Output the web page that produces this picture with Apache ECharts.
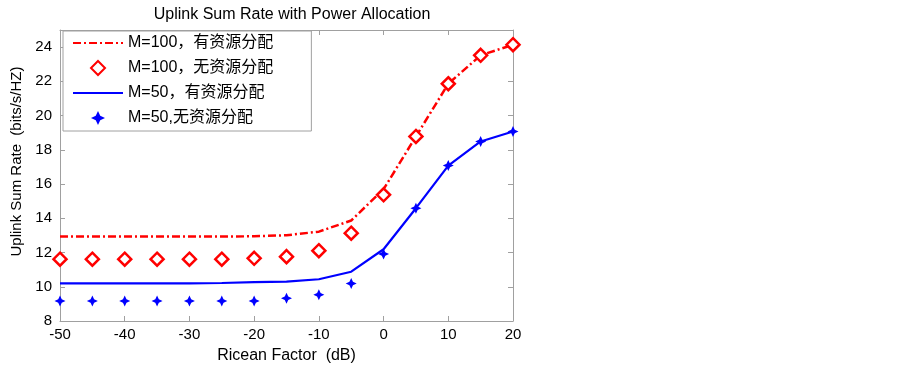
<!DOCTYPE html>
<html lang="zh">
<head>
    <meta charset="UTF-8">
    <title>Uplink Sum Rate</title>
    <script src="https://cdn.jsdelivr.net/npm/echarts@6/dist/echarts.min.js"></script>
</head>
<style>
    html, body { margin: 0; padding: 0; background: #fff; }
    #chart { width: 903px; height: 371px; }
</style>
<body>
<div id="chart"></div>
<script>
    // x: Ricean factor (dB)
    const riceanFactor = [-50, -45, -40, -35, -30, -25, -20, -15, -10, -5, 0, 5, 10, 15, 20];
    const m100Alloc = [12.93, 12.93, 12.93, 12.93, 12.93, 12.93, 12.95, 13.01, 13.22, 13.87, 15.7, 18.78, 21.86, 23.52, 24.14];
    const m100NoAlloc = [11.61, 11.61, 11.61, 11.61, 11.61, 11.61, 11.66, 11.76, 12.11, 13.13, 15.37, 18.78, 21.86, 23.52, 24.14];
    const m50Alloc = [10.2, 10.2, 10.2, 10.2, 10.2, 10.22, 10.27, 10.3, 10.44, 10.88, 12.19, 14.59, 17.08, 18.49, 19.07];
    const m50NoAlloc = [9.17, 9.17, 9.17, 9.17, 9.17, 9.17, 9.17, 9.33, 9.54, 10.19, 11.92, 14.59, 17.08, 18.49, 19.07];
    const seriesNames = ['M=100，有资源分配', 'M=100，无资源分配', 'M=50，有资源分配', 'M=50,无资源分配'];

    const pairs = ys => riceanFactor.map((x, i) => [x, ys[i]]);
    const starPath = 'path://M0,-10 L3.2,-3.2 L10,0 L3.2,3.2 L0,10 L-3.2,3.2 L-10,0 L-3.2,-3.2 Z';
    const diamondPath = 'path://M0,-10 L10,0 L0,10 L-10,0 Z';
    const txt = '#000';
    const boxColor = '#a0a0a0';
    const font = 'Arial, "Liberation Sans", "Noto Sans CJK SC", sans-serif';

    const hiddenAxis = {
        axisLine: {show: true, onZero: false, lineStyle: {color: boxColor}},
        axisTick: {show: true, inside: true, length: 5, lineStyle: {color: boxColor}},
        axisLabel: {show: false},
        splitLine: {show: false}
    };

    let option = {
        animation: false,
        backgroundColor: '#fff',
        textStyle: {fontFamily: font},
        title: {
            text: 'Uplink Sum Rate with Power Allocation',
            left: 287, top: 2, textAlign: 'center',
            textStyle: {fontSize: 16, fontWeight: 'normal', color: txt, fontFamily: font}
        },
        grid: {left: 60, right: 390, top: 30, bottom: 50},
        legend: {
            orient: 'vertical',
            left: 63, top: 31,
            padding: [4, 38, 5, 9],
            itemGap: 9,
            itemWidth: 50, itemHeight: 14,
            symbolKeepAspect: true,
            backgroundColor: '#fff',
            borderColor: boxColor, borderWidth: 1,
            textStyle: {fontSize: 16, color: txt, fontFamily: font},
            data: [
                {name: seriesNames[0], itemStyle: {opacity: 0}},
                {name: seriesNames[1], icon: diamondPath},
                {name: seriesNames[2], itemStyle: {opacity: 0}},
                {name: seriesNames[3], icon: starPath}
            ]
        },
        xAxis: [{
            type: 'value', min: -50, max: 20, interval: 10,
            name: 'Ricean Factor  (dB)', nameLocation: 'middle', nameGap: 27,
            nameTextStyle: {fontSize: 16, color: txt},
            axisLine: {show: true, onZero: false, lineStyle: {color: boxColor}},
            axisTick: {show: true, inside: true, length: 5, lineStyle: {color: boxColor}},
            axisLabel: {fontSize: 15, color: txt, margin: 6},
            splitLine: {show: false}
        }, Object.assign({type: 'value', position: 'top', min: -50, max: 20, interval: 10}, hiddenAxis)],
        yAxis: [{
            type: 'value', min: 8, max: 25, interval: 2,
            name: 'Uplink Sum Rate  (bits/s/HZ)', nameLocation: 'middle', nameGap: 33,
            nameTextStyle: {fontSize: 15, color: txt, padding: [0, 0, 0, 28]},
            axisLine: {show: true, onZero: false, lineStyle: {color: boxColor}},
            axisTick: {show: true, inside: true, length: 5, lineStyle: {color: boxColor}},
            axisLabel: {fontSize: 15, color: txt, margin: 8,
                formatter: v => (v <= 24 ? v : '')},
            splitLine: {show: false}
        }, Object.assign({type: 'value', position: 'right', min: 8, max: 25, interval: 2}, hiddenAxis)],
        series: [{
            name: seriesNames[0], type: 'line', data: pairs(m100Alloc),
            symbol: 'none', z: 3,
            lineStyle: {color: '#ff0000', width: 2.5, type: [8, 3, 2, 3]},
            itemStyle: {color: '#ff0000'}
        }, {
            name: seriesNames[1], type: 'scatter', data: pairs(m100NoAlloc),
            symbol: diamondPath, symbolSize: 13, z: 4,
            itemStyle: {color: '#fff', borderColor: '#ff0000', borderWidth: 2.5, opacity: 1}
        }, {
            name: seriesNames[2], type: 'line', data: pairs(m50Alloc),
            symbol: 'none', z: 3,
            lineStyle: {color: '#0000ff', width: 2.2},
            itemStyle: {color: '#0000ff'}
        }, {
            name: seriesNames[3], type: 'scatter', data: pairs(m50NoAlloc),
            symbol: starPath, symbolSize: 11, z: 4,
            itemStyle: {color: '#0000ff', opacity: 1}
        }]
    };

    let chart = echarts.init(document.getElementById('chart'));
    chart.setOption(option);
</script>
</body>
</html>
